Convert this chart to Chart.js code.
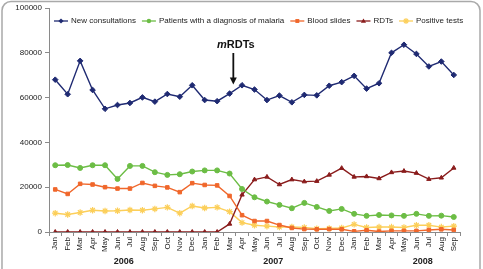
<!DOCTYPE html>
<html><head><meta charset="utf-8">
<style>html,body{margin:0;padding:0;background:#fff;} #wrap{width:483px;height:269px;position:relative;overflow:hidden;}</style>
<script src="https://cdn.jsdelivr.net/npm/chart.js@4/dist/chart.umd.min.js"></script>
</head><body><div id="wrap"><canvas id="c" width="483" height="269"></canvas></div>
<script>
const months = ['Jan','Feb','Mar','Apr','May','Jun','Jul','Aug','Sep','Oct','Nov','Dec',
  'Jan','Feb','Mar','Apr','May','Jun','Jul','Aug','Sep','Oct','Nov','Dec',
  'Jan','Feb','Mar','Apr','May','Jun','Jul','Aug','Sep'];
const years = ['2006','2007','2008'];
const yTicks = [0,20000,40000,60000,80000,100000];
const newConsultations = [68000,61500,76400,63400,55000,56700,57600,60100,58200,61600,60400,65500,
  58900,58400,61800,65500,63600,58900,60900,57900,61200,61000,65300,66900,
  69700,64000,66400,80000,83600,79500,73900,76100,70100];
const malariaPatients = [29800,29900,28600,29800,29800,23700,29500,29500,26700,25500,25800,27000,
  27500,27500,26100,19200,15500,13600,12100,10600,13000,11200,9400,10300,
  8100,7200,7600,7400,7200,8100,7200,7300,6700];
const bloodSlides = [19000,17000,21500,21200,20000,19400,19400,21900,20600,19900,17800,21800,
  21000,20800,16100,7500,4900,4900,3100,1800,1300,1200,1300,1200,
  300,800,200,500,500,500,900,1200,900];
const rdts = [0,0,0,0,0,0,0,0,0,0,0,0,
  0,0,3600,16600,23400,24600,21200,23400,22500,22700,25500,28500,
  24600,24800,23900,26600,27200,26300,23600,24200,28600];
const positiveTests = [8400,7800,8700,9700,9400,9500,9800,9700,10300,11000,8400,11600,
  10700,11000,9100,4200,3000,2600,2200,2300,2000,1500,1600,1800,
  3400,2000,2200,2200,2000,3000,3000,2200,2600];
const seriesNames = ['New consultations','Patients with a diagnosis of malaria','Blood slides','RDTs','Positive tests'];
const annotationText = ['m','RDTs'];

const colors = ['#1f2a72','#6cbd45','#f0672b','#8a1c1c','#fccf5a'];
const styles = ['rectRot','circle','rect','triangle','star'];
const FONT = '"Liberation Sans", Arial, sans-serif';

function mk(i, data){
  return {label: seriesNames[i], data: data, borderColor: colors[i], backgroundColor: colors[i],
    pointBackgroundColor: colors[i], pointBorderColor: colors[i], pointStyle: styles[i],
    pointRadius: i===4 ? 3.2 : (i===0 ? 2.8 : 2.5), pointBorderWidth: i===4 ? 1.2 : 1,
    borderWidth: 1.4, tension: 0, fill: false};
}

function marker(ctx, style, x, y, r, color){
  ctx.save(); ctx.fillStyle=color; ctx.strokeStyle=color; ctx.lineWidth=1;
  ctx.beginPath();
  if(style==='rectRot'){ctx.moveTo(x,y-r);ctx.lineTo(x+r,y);ctx.lineTo(x,y+r);ctx.lineTo(x-r,y);ctx.closePath();ctx.fill();}
  else if(style==='circle'){ctx.arc(x,y,r*0.85,0,Math.PI*2);ctx.fill();}
  else if(style==='rect'){ctx.rect(x-r*0.75,y-r*0.75,r*1.5,r*1.5);ctx.fill();}
  else if(style==='triangle'){ctx.moveTo(x,y-r);ctx.lineTo(x+r,y+r*0.7);ctx.lineTo(x-r,y+r*0.7);ctx.closePath();ctx.fill();}
  else {ctx.lineWidth=1.1;ctx.moveTo(x-r,y);ctx.lineTo(x+r,y);ctx.moveTo(x,y-r);ctx.lineTo(x,y+r);
    const d=r*0.7;ctx.moveTo(x-d,y-d);ctx.lineTo(x+d,y+d);ctx.moveTo(x-d,y+d);ctx.lineTo(x+d,y-d);ctx.stroke();}
  ctx.restore();
}

const extras = {
  id:'extras',
  beforeDraw(chart){
    const ctx=chart.ctx; ctx.save();
    ctx.strokeStyle='#a9a9a9'; ctx.lineWidth=1.5;
    ctx.beginPath(); ctx.roundRect(2,1.5,478,320,9); ctx.stroke(); ctx.restore();
  },
  afterDraw(chart){
    const ctx=chart.ctx, xs=chart.scales.x, ys=chart.scales.y;
    // legend
    ctx.save();
    ctx.font='8px '+FONT; ctx.textBaseline='middle'; ctx.textAlign='left'; ctx.fillStyle='#222';
    let x=54; const ly=21;
    for(let i=0;i<seriesNames.length;i++){
      ctx.strokeStyle=colors[i]; ctx.lineWidth=1.3;
      ctx.beginPath(); ctx.moveTo(x,ly); ctx.lineTo(x+14,ly); ctx.stroke();
      marker(ctx, styles[i], x+7, ly, i===4?3:2.6, colors[i]);
      ctx.fillStyle='#222';
      ctx.fillText(seriesNames[i], x+17, ly);
      x += 17 + ctx.measureText(seriesNames[i]).width + 6;
    }
    // year labels
    ctx.font='bold 9px '+FONT; ctx.textAlign='center'; ctx.textBaseline='middle';
    for(let k=0;k<years.length;k++){
      ctx.fillText(years[k], xs.getPixelForValue(k*12+5.5), 262);
    }
    // annotation
    const ax = xs.getPixelForValue(14.3), tx = xs.getPixelForValue(14.5);
    ctx.font='bold italic 11px '+FONT;
    const w1=ctx.measureText(annotationText[0]).width;
    ctx.font='bold 11px '+FONT;
    const w2=ctx.measureText(annotationText[1]).width;
    const sx = tx-(w1+w2)/2;
    ctx.textAlign='left'; ctx.textBaseline='alphabetic'; ctx.fillStyle='#111';
    ctx.font='bold italic 11px '+FONT; ctx.fillText(annotationText[0], sx, 48);
    ctx.font='bold 11px '+FONT; ctx.fillText(annotationText[1], sx+w1, 48);
    const tipY = ys.getPixelForValue(65800);
    ctx.strokeStyle='#111'; ctx.lineWidth=1.8;
    ctx.beginPath(); ctx.moveTo(ax,53); ctx.lineTo(ax,tipY-5); ctx.stroke();
    ctx.fillStyle='#111'; ctx.beginPath(); ctx.moveTo(ax-3.5,tipY-7); ctx.lineTo(ax+3.5,tipY-7); ctx.lineTo(ax,tipY); ctx.closePath(); ctx.fill();
    ctx.restore();
  }
};

new Chart(document.getElementById('c'), {
  type:'line',
  data:{labels: months, datasets:[mk(0,newConsultations),mk(1,malariaPatients),mk(2,bloodSlides),mk(3,rdts),mk(4,positiveTests)]},
  options:{
    responsive:false, animation:false, devicePixelRatio:1,
    layout:{padding:{left:0,top:8,right:23,bottom:0}},
    plugins:{legend:{display:false}, tooltip:{enabled:false}},
    scales:{
      x:{offset:true,
        grid:{offset:true, drawOnChartArea:false, tickLength:4, color:'#8a8a8a'},
        border:{color:'#8a8a8a', width:1},
        ticks:{minRotation:90, maxRotation:90, autoSkip:false, padding:1, color:'#222', font:{size:8, family:FONT}},
        afterFit(s){ s.height=37; }
      },
      y:{min:0, max:100000, afterBuildTicks(s){ s.ticks = yTicks.map(v=>({value:v})); },
        grid:{drawOnChartArea:false, tickLength:4, color:'#8a8a8a'},
        border:{color:'#8a8a8a', width:1},
        ticks:{padding:3, color:'#222', font:{size:8, family:FONT}, callback:v=>String(v)},
        afterFit(s){ s.width=49; }
      }
    }
  },
  plugins:[extras]
});
</script></body></html>
